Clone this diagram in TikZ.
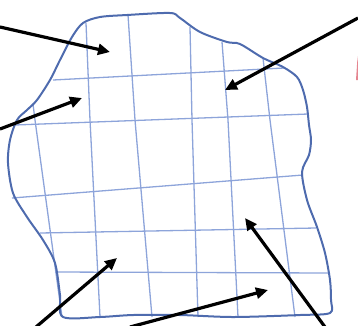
\documentclass[tikz,border=0pt]{standalone}
\usetikzlibrary{arrows.meta}
\definecolor{outl}{HTML}{4E6BAE}
\definecolor{gridc}{HTML}{8DA4DA}
\definecolor{redm}{HTML}{E58590}
\tikzset{
  outline/.style={draw=outl, line width=2pt, line join=round},
  gridline/.style={draw=gridc, line width=1.3pt},
  pointer/.style={draw=black, line width=3.2pt, -{Triangle[length=12pt,width=11pt]}}
}
\begin{document}
\begin{tikzpicture}[x=1pt,y=-1pt]
\useasboundingbox (0,0) rectangle (358,325);
% grid lines
\draw[gridline] (33,104) -- (35,120) -- (62,317);
\draw[gridline] (86,23) -- (90,120) -- (100,317);
\draw[gridline] (128,15) -- (135,120) -- (152,317);
\draw[gridline] (190,27) -- (192,120) -- (198,317);
\draw[gridline] (222,42) -- (228,120) -- (238,317);
\draw[gridline] (263,58) -- (270,120) -- (295,317);
\draw[gridline] (53,80) -- (284,68);
\draw[gridline] (15,125) -- (308,114);
\draw[gridline] (12,198) -- (303,175);
\draw[gridline] (40,233) -- (316,228);
\draw[gridline] (55,272) -- (329,273);
% outline
\draw[outline] plot[smooth cycle, tension=0.5] coordinates {
 (83,23) (100,17) (127,15) (170,13) (180,18) (200,32) (227,42) (240,44)
 (263,58) (283,67) (297,77) (303,90) (307,107) (309,125) (311,140) (309,155)
 (302,172) (307,200) (317,227) (325,253) (330,280) (331,300) (330,313)
 (300,315) (233,317) (180,315) (133,315) (100,317) (63,317)
 (60,295) (55,263) (43,240) (27,217) (13,193) (8,163) (10,140) (17,120)
 (27,110) (37,100) (50,80) (60,60) (72,37)};
% red mark
\fill[redm] (356,80) -- (357.2,62) -- (358,56) -- (358,80) -- cycle;
% arrows
\coordinate (s1) at (0,27);   \coordinate (t1) at (110,52);
\coordinate (s2) at (358,18); \coordinate (t2) at (225,90);
\coordinate (s3) at (0,129);  \coordinate (t3) at (82,98);
\coordinate (s4) at (36,327); \coordinate (t4) at (117,258);
\coordinate (s5) at (130,327);\coordinate (t5) at (268,290);
\coordinate (s6) at (325,327);\coordinate (t6) at (245,218);
\draw[pointer] (s1) -- (t1);
\draw[pointer] (s2) -- (t2);
\draw[pointer] (s3) -- (t3);
\draw[pointer] (s4) -- (t4);
\draw[pointer] (s5) -- (t5);
\draw[pointer] (s6) -- (t6);
\end{tikzpicture}
\end{document}
